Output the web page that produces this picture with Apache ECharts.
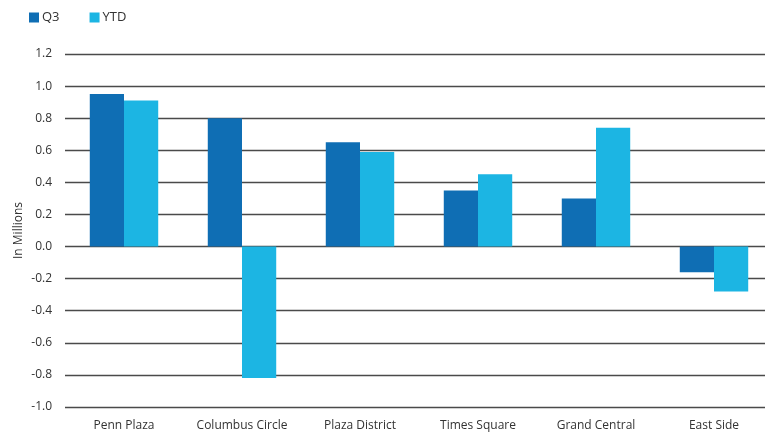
<!DOCTYPE html>
<html>
<head>
<meta charset="utf-8">
<script src="https://cdn.jsdelivr.net/npm/echarts@6/dist/echarts.min.js"></script>
<style>
  html, body { margin: 0; padding: 0; background: #fff; }
  #chart { width: 765px; height: 433px; }
</style>
</head>
<body>
<div id="chart"></div>
<script>
// Submarket categories and values (in millions)
const categories = ['Penn Plaza', 'Columbus Circle', 'Plaza District', 'Times Square', 'Grand Central', 'East Side'];
const q3Values = [0.95, 0.80, 0.65, 0.35, 0.30, -0.16];
const ytdValues = [0.91, -0.82, 0.59, 0.45, 0.74, -0.28];
const seriesNames = ['Q3', 'YTD'];
const axisTitle = 'In Millions';

const font = '"Open Sans", "Noto Sans", sans-serif';
const chart = echarts.init(document.getElementById('chart'), null, { renderer: 'canvas' });

chart.setOption({
  animation: false,
  textStyle: { fontFamily: font },
  legend: {
    left: 24,
    top: 6,
    itemWidth: 10,
    itemHeight: 10,
    itemGap: 30,
    icon: 'rect',
    textStyle: { fontFamily: font, fontSize: 13, color: '#333', padding: [0, 0, 0, -2] },
    data: seriesNames
  },
  // the plot runs slightly past the right edge of the canvas
  grid: { left: 65, width: 708, top: 54, bottom: 26, containLabel: false, outerBoundsMode: 'none' },
  xAxis: {
    type: 'category',
    data: categories,
    position: 'bottom',
    axisLine: { show: false, onZero: false },
    axisTick: { show: false },
    axisLabel: { fontFamily: font, fontSize: 12, color: '#333', margin: 13, interval: 0 }
  },
  yAxis: {
    type: 'value',
    min: -1.0,
    max: 1.2,
    interval: 0.2,
    name: axisTitle,
    nameLocation: 'middle',
    nameGap: 40,
    nameMoveOverlap: false,
    nameRotate: 90,
    nameTextStyle: { fontFamily: font, fontSize: 12, color: '#333' },
    axisLine: { show: false },
    axisTick: { show: false },
    axisLabel: {
      fontFamily: font, fontSize: 12, color: '#333', margin: 13,
      formatter: v => v.toFixed(1)
    },
    splitLine: { lineStyle: { color: '#4a4a4a', width: 1.4 } }
  },
  series: [
    {
      name: seriesNames[0],
      type: 'bar',
      data: q3Values,
      barGap: '0%',
      barCategoryGap: '42%',
      itemStyle: { color: '#0f6eb4' }
    },
    {
      name: seriesNames[1],
      type: 'bar',
      data: ytdValues,
      barGap: '0%',
      barCategoryGap: '42%',
      itemStyle: { color: '#1cb5e3' }
    }
  ]
});
</script>
</body>
</html>
